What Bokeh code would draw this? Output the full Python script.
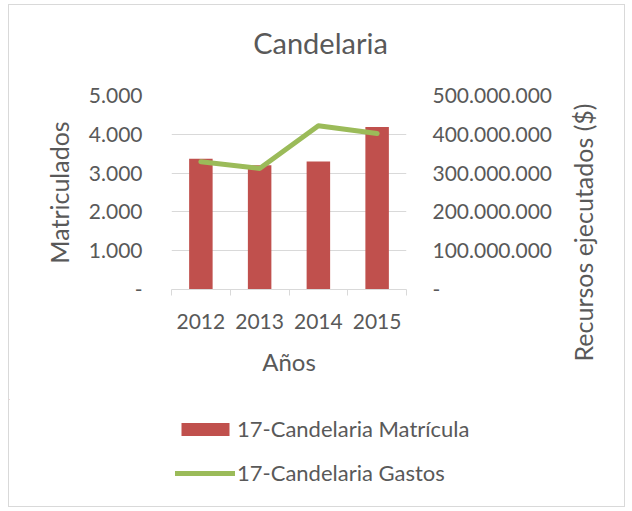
import math
from bokeh.plotting import figure
from bokeh.models import Range1d, LinearAxis, FixedTicker, Legend, LegendItem, Label
from bokeh.embed import file_html
from bokeh.resources import INLINE

# ---- data ----
years = ["2012", "2013", "2014", "2015"]
matricula = [3370, 3200, 3300, 4190]
gastos = [329000000, 312000000, 422000000, 402000000]
left_ticks = [0, 1000, 2000, 3000, 4000, 5000]
left_tick_labels = ["-", "1.000", "2.000", "3.000", "4.000", "5.000"]
right_ticks = [0, 100000000, 200000000, 300000000, 400000000, 500000000]
right_tick_labels = ["-", "100.000.000", "200.000.000", "300.000.000", "400.000.000", "500.000.000"]
series_names = ["17-Candelaria Matrícula", "17-Candelaria Gastos"]
chart_title = "Candelaria"

FONT = "Lato"
TXT = "#595959"
GRID = "#d9d9d9"
BAR = "#c0504d"
LINE = "#9bbb59"
BORDER = "1px solid #d9d9d9"

xs = [i + 0.5 for i in range(len(years))]
bounds = list(range(len(years) + 1))

p = figure(width=617, height=395, output_backend="svg", toolbar_location=None, title=None,
           x_range=Range1d(0, len(years)), y_range=Range1d(0, left_ticks[-1]),
           min_border_left=162, min_border_right=220, min_border_top=90, min_border_bottom=111)
p.styles = {"border-top": BORDER, "border-left": BORDER, "border-right": BORDER,
            "margin-left": "8px", "margin-top": "4px"}
p.outline_line_color = None
p.background_fill_color = "white"
p.border_fill_color = "white"
p.extra_y_ranges = {"gastos": Range1d(0, right_ticks[-1])}

# title as a label in the top panel
tlabel = Label(x=149, y=53, x_units="screen", y_units="screen", text=chart_title,
               text_align="center", text_baseline="middle",
               text_font=FONT, text_font_size="29px", text_color=TXT)
p.add_layout(tlabel, "above")

# grids
p.xgrid.visible = False
p.ygrid.grid_line_color = GRID
p.ygrid.grid_line_width = 1

# x axis
xa = p.xaxis[0]
xa.ticker = FixedTicker(ticks=xs, minor_ticks=bounds)
xa.major_label_overrides = {x: y for x, y in zip(xs, years)}
xa.axis_line_color = GRID
xa.major_tick_out = 0
xa.major_tick_in = 0
xa.minor_tick_out = 6
xa.minor_tick_in = 0
xa.minor_tick_line_color = GRID
xa.major_label_text_font = FONT
xa.major_label_text_font_size = "21px"
xa.major_label_text_color = TXT
xa.major_label_standoff = 18
xa.axis_label = "Años"
xa.axis_label_text_font = FONT
xa.axis_label_text_font_size = "24px"
xa.axis_label_text_font_style = "normal"
xa.axis_label_text_color = TXT
xa.axis_label_standoff = 15

# left axis
ya = p.yaxis[0]
ya.ticker = FixedTicker(ticks=left_ticks)
ya.major_label_overrides = {t: l for t, l in zip(left_ticks, left_tick_labels)}
ya.axis_line_color = None
ya.major_tick_line_color = None
ya.minor_tick_line_color = None
ya.major_label_text_font = FONT
ya.major_label_text_font_size = "21px"
ya.major_label_text_color = TXT
ya.major_label_standoff = 23
ya.axis_label = "Matriculados"
ya.axis_label_text_font = FONT
ya.axis_label_text_font_size = "25px"
ya.axis_label_text_font_style = "normal"
ya.axis_label_text_color = TXT
ya.axis_label_standoff = 12

# right axis
ra = LinearAxis(y_range_name="gastos", ticker=FixedTicker(ticks=right_ticks))
ra.major_label_overrides = {t: l for t, l in zip(right_ticks, right_tick_labels)}
ra.axis_line_color = None
ra.major_tick_line_color = None
ra.minor_tick_line_color = None
ra.major_label_text_font = FONT
ra.major_label_text_font_size = "21px"
ra.major_label_text_color = TXT
ra.major_label_standoff = 20
p.add_layout(ra, "right")

# right axis title placed in the right panel (reads bottom-to-top)
rlabel = Label(x=27, y=57, x_units="screen", y_units="screen",
               text="Recursos ejecutados ($)", angle=math.pi / 2,
               text_align="center", text_baseline="middle",
               text_font=FONT, text_font_size="25px", text_color=TXT)
p.add_layout(rlabel, "right")

# glyphs
bars = p.vbar(x=xs, top=matricula, width=0.4, fill_color=BAR, line_color=None)
line = p.line(x=xs, y=gastos, y_range_name="gastos", line_color=LINE, line_width=5,
              line_cap="round", line_join="round")

# legend strip below the chart (separate root so its frame spans the full width);
# its series renderers lie far outside the strip's visible ranges and only feed the legend
p2 = figure(width=617, height=108, output_backend="svg", toolbar_location=None,
            x_range=Range1d(100, 101), y_range=Range1d(-20000, -10000),
            x_axis_location=None, y_axis_location=None, min_border=0)
p2.styles = {"border-bottom": BORDER, "border-left": BORDER, "border-right": BORDER,
             "margin-left": "8px"}
p2.outline_line_color = None
p2.grid.visible = False
p2.background_fill_color = "white"
p2.border_fill_color = "white"
lb = p2.vbar(x=xs, top=matricula, width=0.4, fill_color=BAR, line_color=None)
ll = p2.line(x=xs, y=matricula, line_color=LINE, line_width=5, line_cap="round")
leg = Legend(items=[LegendItem(label=series_names[0], renderers=[lb]),
                    LegendItem(label=series_names[1], renderers=[ll])],
             location=(166, 21), margin=0, padding=0, spacing=17,
             glyph_width=60, glyph_height=16, label_standoff=2,
             border_line_color=None, background_fill_alpha=0,
             label_text_font=FONT, label_text_font_size="22px", label_text_color=TXT,
             orientation="vertical")
p2.add_layout(leg)

open("out.html", "w").write(file_html([p, p2], INLINE))
